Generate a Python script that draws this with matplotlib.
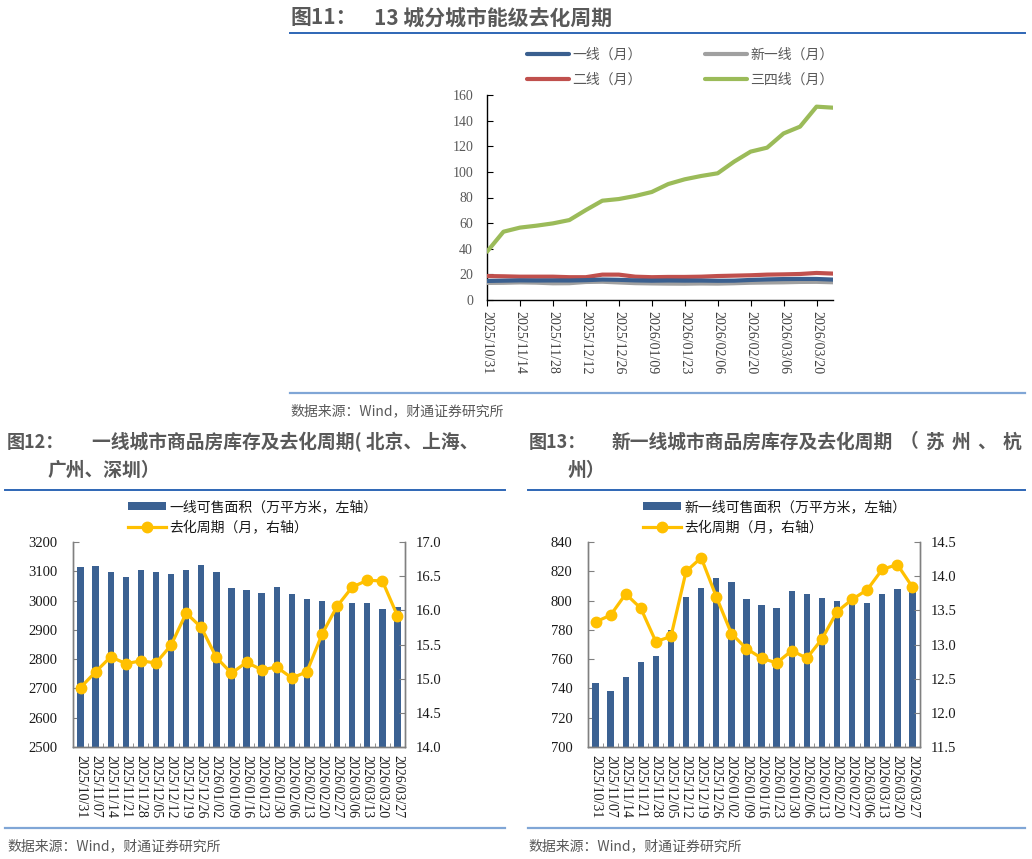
import matplotlib
matplotlib.use("Agg")
import matplotlib.pyplot as plt
import matplotlib.font_manager as fm
from matplotlib.lines import Line2D
from matplotlib.ticker import MultipleLocator, FormatStrFormatter

plt.rcParams['font.family'] = ['Noto Sans CJK SC', 'DejaVu Sans']

# ---------------- data ----------------
dates = ["2025/10/31", "2025/11/07", "2025/11/14", "2025/11/21", "2025/11/28",
         "2025/12/05", "2025/12/12", "2025/12/19", "2025/12/26", "2026/01/02",
         "2026/01/09", "2026/01/16", "2026/01/23", "2026/01/30", "2026/02/06",
         "2026/02/13", "2026/02/20", "2026/02/27", "2026/03/06", "2026/03/13",
         "2026/03/20", "2026/03/27"]

# 去化周期（月）
tier1_cycle = [14.87, 15.10, 15.32, 15.22, 15.26, 15.23, 15.49, 15.96, 15.75, 15.31,
               15.08, 15.24, 15.13, 15.17, 15.01, 15.10, 15.65, 16.06, 16.34, 16.44,
               16.43, 15.92]
newtier1_cycle = [13.33, 13.43, 13.74, 13.53, 13.04, 13.12, 14.07, 14.27, 13.70, 13.16,
                  12.94, 12.80, 12.73, 12.91, 12.80, 13.08, 13.48, 13.66, 13.80, 14.10,
                  14.17, 13.84]
tier2_cycle = [18.7, 18.5, 18.2, 18.2, 18.2, 17.8, 17.8, 19.8, 19.8, 18.2,
               17.8, 18.0, 18.0, 18.2, 18.7, 19.0, 19.3, 19.8, 20.0, 20.3,
               21.1, 20.6]
tier34_cycle = [37.7, 53.3, 56.5, 58.0, 59.8, 62.4, 70.2, 77.5, 78.8, 81.2,
                84.3, 90.5, 94.2, 96.8, 98.9, 108.0, 115.8, 118.9, 130.0, 135.3,
                150.9, 150.1]

# 可售面积（万平方米）
tier1_stock = [3116, 3118, 3096, 3080, 3104, 3099, 3092, 3104, 3121, 3099,
               3043, 3036, 3026, 3046, 3024, 3007, 2997, 2993, 2992, 2992,
               2971, 2979]
newtier1_stock = [743.7, 738.2, 747.8, 758.3, 762.4, 780.0, 802.4, 808.6, 815.4, 812.7,
                  801.1, 797.0, 794.7, 806.5, 804.5, 801.5, 799.5, 799.0, 798.1, 804.3,
                  808.1, 806.5]

# ---------------- fonts ----------------
SERIF = 'Liberation Serif'
for p in fm.findSystemFonts():
    if 'LiberationSerif-Regular' in p:
        try:
            fm.fontManager.addfont(p)
            SERIF = fm.FontProperties(fname=p).get_name()
        except Exception:
            pass
        break
SERIF_LIST = [SERIF, 'DejaVu Serif']

# ---------------- styling ----------------
W, H = 1032, 859
fig = plt.figure(figsize=(W / 100, H / 100), dpi=100)

C_BAR = '#3B6192'
C_GOLD = '#FFC000'
C_BLUE = '#3A5F8F'
C_GRAY = '#A0A0A0'
C_RED = '#C0504D'
C_GREEN = '#9BBB59'
C_TITLE = '#595959'
C_RULE = '#2E66B5'
C_RULE2 = '#80A6D6'


def ax_rect(left, right, top, bottom):
    return [left / W, 1 - bottom / H, (right - left) / W, (bottom - top) / H]


def fig_line(x0, x1, y, color, lw):
    fig.add_artist(Line2D([x0 / W, x1 / W], [1 - y / H, 1 - y / H],
                          transform=fig.transFigure, color=color, lw=lw))


def fig_text(x, y, s, **kw):
    fig.text(x / W, 1 - y / H, s, **kw)


def spread_text(x0, x1, y, s, **kw):
    # justified title text: characters spread evenly over [x0, x1]
    n = len(s)
    cell = (x1 - x0) / n
    for i, ch in enumerate(s):
        fig_text(x0 + cell * (i + 0.5), y, ch, ha='center', **kw)


TK = dict(fontweight='bold', color=C_TITLE, va='center')
TS = 13.5

# ---------------- titles / rules / sources ----------------
fig_text(290, 18, "图11：", fontsize=15, **TK)
fig_text(374, 18, "13 城分城市能级去化周期", fontsize=15, **TK)
fig_line(290, 1025, 33, C_RULE, 1.4)
fig_line(290, 1025, 393, C_RULE2, 1.6)
fig_text(290, 411, "数据来源：Wind，财通证券研究所", fontsize=10, color=C_TITLE, va='center')

fig_text(7, 442, "图12：", fontsize=13, **TK)
fig_text(92, 442, "一线城市商品房库存及去化周期( 北京、上海、", fontsize=TS, **TK)
fig_text(47, 470, "广州、深圳）", fontsize=TS, **TK)
fig_line(5, 505, 490, C_RULE, 1.4)
fig_line(5, 505, 828, C_RULE2, 1.6)
fig_text(7, 846, "数据来源：Wind，财通证券研究所", fontsize=10, color=C_TITLE, va='center')

fig_text(529, 442, "图13：", fontsize=13, **TK)
fig_text(612, 442, "新一线城市商品房库存及去化周期", fontsize=TS, **TK)
spread_text(896, 1025, 442, "（苏州、杭", fontsize=TS, **TK)
fig_text(568, 470, "州）", fontsize=TS, **TK)
fig_line(528, 1025, 490, C_RULE, 1.4)
fig_line(528, 1025, 828, C_RULE2, 1.6)
fig_text(528, 846, "数据来源：Wind，财通证券研究所", fontsize=10, color=C_TITLE, va='center')

# ---------------- chart 11 ----------------
ax1 = fig.add_axes(ax_rect(487, 833, 95, 300))
x = list(range(len(dates)))
l_t1, = ax1.plot(x, tier1_cycle, color=C_BLUE, lw=3, zorder=4, solid_capstyle='round')
l_nt1, = ax1.plot(x, newtier1_cycle, color=C_GRAY, lw=3, zorder=3, solid_capstyle='round')
l_t2, = ax1.plot(x, tier2_cycle, color=C_RED, lw=3, zorder=3, solid_capstyle='round')
l_t34, = ax1.plot(x, tier34_cycle, color=C_GREEN, lw=3, zorder=3, solid_capstyle='round')
ax1.set_xlim(0, len(dates) - 1)
ax1.set_ylim(0, 160)
ax1.yaxis.set_major_locator(MultipleLocator(20))
ax1.set_xticks(x[::2])
ax1.set_xticklabels(dates[::2], rotation=-90, family=SERIF_LIST)
ax1.tick_params(axis='y', direction='in', length=4, labelsize=10, labelcolor='#595959', pad=10)
ax1.tick_params(axis='x', direction='out', length=4, pad=4, labelsize=10, labelcolor='#404040')
for t in ax1.get_yticklabels():
    t.set_family(SERIF_LIST)
for s in ['top', 'right']:
    ax1.spines[s].set_visible(False)
for s in ['left', 'bottom']:
    ax1.spines[s].set_color('#000000')
    ax1.spines[s].set_linewidth(1.0)
ax1.legend([l_t1, l_t2, l_nt1, l_t34], ["一线（月）", "二线（月）", "新一线（月）", "三四线（月）"],
           ncol=2, loc='upper left', bbox_to_anchor=(527 / W, 1 - 48 / H),
           bbox_transform=fig.transFigure, frameon=False, fontsize=10,
           handlelength=3.0, handletextpad=0.25, columnspacing=4.6,
           labelspacing=0.75, borderpad=0, borderaxespad=0, labelcolor='#595959')


# ---------------- bar + line charts ----------------
def bar_line(rect, stock, cycle, ylim_l, step_l, ylim_r, bar_label, leg_x):
    ax = fig.add_axes(rect)
    axr = ax.twinx()
    xs = list(range(len(dates)))
    b = ax.bar(xs, [v - ylim_l[0] for v in stock], bottom=ylim_l[0], width=0.42,
               color=C_BAR, zorder=2)
    ln, = axr.plot(xs, cycle, color=C_GOLD, lw=2.3, marker='o', markersize=7.5, zorder=5)
    ax.set_xlim(-0.5, len(dates) - 0.5)
    ax.set_ylim(*ylim_l)
    axr.set_ylim(*ylim_r)
    ax.yaxis.set_major_locator(MultipleLocator(step_l))
    axr.yaxis.set_major_locator(MultipleLocator(0.5))
    axr.yaxis.set_major_formatter(FormatStrFormatter('%.1f'))
    ax.set_xticks(xs)
    ax.set_xticklabels(dates, rotation=-90, family=SERIF_LIST)
    ax.set_xticks([i - 0.5 for i in range(len(dates) + 1)], minor=True)
    ax.tick_params(axis='x', which='major', length=0, pad=6, labelsize=10, labelcolor='#1a1a1a')
    ax.tick_params(axis='x', which='minor', direction='in', length=3, color='#808080')
    ax.tick_params(axis='y', direction='in', length=4, labelsize=10.5, pad=11,
                   color='#808080', labelcolor='#1a1a1a')
    axr.tick_params(axis='y', direction='in', length=4, labelsize=10.5, pad=8,
                    color='#808080', labelcolor='#1a1a1a')
    for t in ax.get_yticklabels() + axr.get_yticklabels():
        t.set_family(SERIF_LIST)
    for a in (ax, axr):
        a.spines['top'].set_visible(False)
        for s in ['left', 'right', 'bottom']:
            a.spines[s].set_color('#808080')
            a.spines[s].set_linewidth(1.0)
    axr.set_zorder(ax.get_zorder() + 1)
    ax.legend([b, ln], [bar_label, "去化周期（月，右轴）"], loc='upper left',
              bbox_to_anchor=(leg_x / W, 1 - 500 / H), bbox_transform=fig.transFigure,
              frameon=False, fontsize=10, handlelength=2.75, handleheight=0.55,
              handletextpad=0.2, labelspacing=0.5, borderpad=0, borderaxespad=0,
              labelcolor='#1a1a1a')
    return ax, axr


bar_line(ax_rect(73, 405, 542, 747), tier1_stock, tier1_cycle, (2500, 3200), 100,
         (14.0, 17.0), "一线可售面积（万平方米，左轴）", 128)
bar_line(ax_rect(588, 920, 542, 747), newtier1_stock, newtier1_cycle, (700, 840), 20,
         (11.5, 14.5), "新一线可售面积（万平方米，左轴）", 643)

fig.savefig("out.png", dpi=100)
